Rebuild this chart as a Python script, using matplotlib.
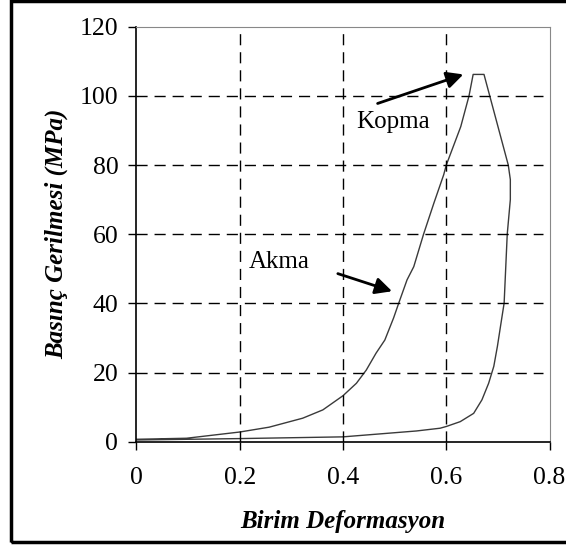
import matplotlib
matplotlib.use('Agg')
import matplotlib.pyplot as plt
from matplotlib.patches import Rectangle

# loading branch (strain, stress MPa)
load_x = [0.0, 0.097, 0.2, 0.257, 0.322, 0.361, 0.4, 0.426, 0.445, 0.464, 0.481,
          0.498, 0.508, 0.524, 0.537, 0.556, 0.576, 0.595, 0.6, 0.628, 0.644, 0.652]
load_y = [0.7, 1.0, 2.8, 4.2, 6.8, 9.2, 13.3, 16.9, 20.7, 25.6, 29.4,
          35.8, 40.1, 46.8, 50.6, 60.0, 69.0, 77.2, 80.0, 91.1, 100.0, 106.2]
# plateau at failure, then unloading branch back to the origin
unload_x = [0.652, 0.673, 0.72, 0.724, 0.724, 0.718, 0.712, 0.705, 0.699, 0.692, 0.682,
            0.669, 0.653, 0.627, 0.6, 0.588, 0.542, 0.4, 0.2, 0.0]
unload_y = [106.2, 106.2, 80.0, 75.8, 70.0, 60.0, 40.1, 33.4, 27.6, 21.8, 16.9,
            12.1, 8.2, 5.8, 4.4, 3.9, 3.1, 1.4, 0.9, 0.5]

x_ticks = [0, 0.2, 0.4, 0.6, 0.8]
x_labels = ['0', '0.2', '0.4', '0.6', '0.8']
y_ticks = [0, 20, 40, 60, 80, 100, 120]

plt.rcParams['font.family'] = ['Liberation Serif', 'DejaVu Serif']

fig = plt.figure(figsize=(5.66, 5.47), dpi=100)
ax = fig.add_axes([0.241, 0.1925, 0.730, 0.7587])

ax.plot(load_x + unload_x[1:], load_y + unload_y[1:], color='#3a3a3a', lw=1.0)

ax.set_xlim(0, 0.8)
ax.set_ylim(0, 120)
ax.set_xticks(x_ticks)
ax.set_xticklabels(x_labels)
ax.set_yticks(y_ticks)
ax.tick_params(direction='out', length=6, width=1, labelsize=18.5)
ax.tick_params(axis='y', pad=7)
ax.tick_params(axis='x', pad=12)

for v in x_ticks[1:-1]:
    ax.axvline(v, color='black', lw=1, ls=(0, (8, 5)))
for v in y_ticks[1:-1]:
    ax.axhline(v, color='black', lw=1, ls=(0, (8, 5)), xmax=0.985)

for s in ['top', 'right']:
    ax.spines[s].set_color('#888888')
for s in ['left', 'bottom']:
    ax.spines[s].set_color('black')
    ax.spines[s].set_linewidth(1.2)

ax.set_xlabel('Birim Deformasyon', fontsize=18, fontweight='bold', fontstyle='italic', labelpad=15)
ax.set_ylabel('Basınç Gerilmesi (MPa)', fontsize=18, fontweight='bold', fontstyle='italic', labelpad=8)

arrow = dict(arrowstyle='-|>,head_length=1.0,head_width=0.5', color='black', lw=2,
             shrinkA=0, shrinkB=0)
ax.text(0.425, 90.6, 'Kopma', fontsize=18)
ax.annotate('', xy=(0.633, 106.2), xytext=(0.467, 97.8), arrowprops=arrow)
ax.text(0.217, 50.1, 'Akma', fontsize=18)
ax.annotate('', xy=(0.495, 43.5), xytext=(0.390, 48.6), arrowprops=arrow)

fig.patches.append(Rectangle((11 / 566, 5.5 / 547), 1.2, 1 - 6 / 547, transform=fig.transFigure,
                             fill=False, edgecolor='black', lw=2.5))

fig.savefig('out.png', dpi=100)
